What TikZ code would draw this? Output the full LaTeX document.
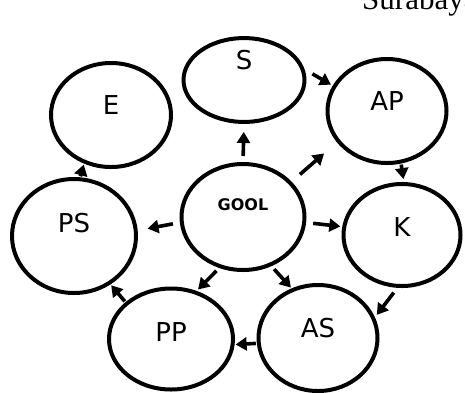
\documentclass[tikz,border=0pt]{standalone}
\usepackage{fontspec}
\usetikzlibrary{shapes.geometric,arrows.meta}
\newfontfamily\lblfont{DejaVu Sans}
\newfontfamily\cityfont{Liberation Serif}
\tikzset{
  circ/.style={draw, ellipse, line width=4pt, inner sep=0pt,
               font=\lblfont\fontsize{26}{30}\selectfont, text depth=20pt},
  arr/.style={line width=3.6pt, -{Triangle[length=11pt,width=13pt]}},
}

\begin{document}
\begin{tikzpicture}[x=1pt, y=-1pt]
  % Frame to fix size
  \useasboundingbox (0,0) rectangle (465,392);
  \clip (0,0) rectangle (465,392);
  % Header (cut off)
  \node[anchor=base west, inner sep=0pt, font=\cityfont\fontsize{31}{36}\selectfont] (city) at (362,9) {Surabaya};
  % Ellipses
  \node[circ, minimum width=120pt, minimum height=104pt]                  (e)    at (111,115) {E};
  \node[circ, minimum width=121pt, minimum height=82pt, text depth=40pt]  (s)    at (244,80)  {S};
  \node[circ, minimum width=119pt, minimum height=104pt]                  (ap)   at (387,111) {AP};
  \node[circ, minimum width=124pt, minimum height=114pt, text depth=26pt] (ps)   at (74,236)  {PS};
  \node[circ, minimum width=123pt, minimum height=106pt, text depth=24pt,
        font=\lblfont\bfseries\fontsize{16}{19}\selectfont]                (gool) at (243,217) {GOOL};
  \node[circ, minimum width=117pt, minimum height=102pt, text depth=16pt] (k)    at (402,235) {K};
  \node[circ, minimum width=124pt, minimum height=101pt, text depth=14pt] (pp)   at (171,339) {PP};
  \node[circ, minimum width=119pt, minimum height=106pt]                  (as)   at (318,338) {AS};
  % Arrows from the centre
  \draw[arr, shorten <=6pt,  shorten >=8pt]  (gool.north) -- (s.south);
  \draw[arr, shorten <=11pt, shorten >=17pt] (gool.36)    -- (ap.212);
  \draw[arr, shorten <=7pt,  shorten >=2pt]  (gool.-5)    -- (k.172);
  \draw[arr, shorten <=7pt,  shorten >=10pt] (gool.185)   -- (ps.5);
  \draw[arr, shorten <=4pt,  shorten >=2pt]  (gool.245)   -- (pp.62);
  \draw[arr, shorten <=4pt,  shorten >=1pt]  (gool.300)   -- (as.118);
  % Arrows round the ring
  \draw[arr, shorten <=9pt,  shorten >=2pt]  (s.10)       -- (ap.155);
  \draw[arr, shorten <=1pt,  shorten >=3pt]  (ap.-75)     -- (k.88);
  \draw[arr, shorten <=6pt,  shorten >=3pt]  (k.265)      -- (as.20);
  \draw[arr, shorten <=1pt,  shorten >=1pt]  (as.185)     -- (pp.-5);
  \draw[arr, shorten <=1pt,  shorten >=1pt]  (pp.141)     -- (ps.307);
  \draw[arr, shorten <=1pt,  shorten >=1pt]  (ps.84)      -- (e.241);
\end{tikzpicture}
\end{document}
